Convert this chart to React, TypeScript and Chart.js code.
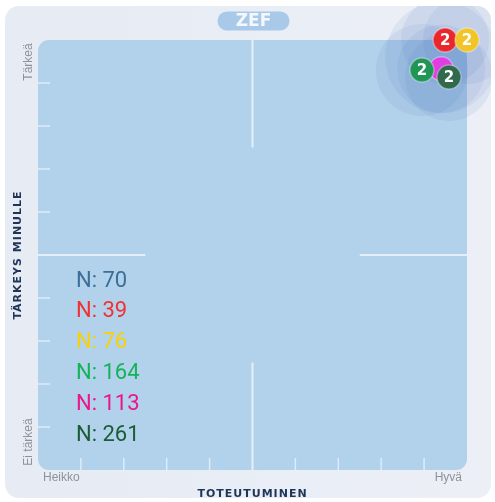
import { useEffect, useRef } from "react";
import { Chart, registerables, BubbleController } from "chart.js";
Chart.register(...registerables);

// Bubble controller that does not reserve extra layout padding for big radii
class FlatBubbleController extends (BubbleController as any) {
  static id = "flatBubble";
  static defaults = (BubbleController as any).defaults;
  static overrides = (BubbleController as any).overrides;
  getMaxOverflow() {
    return 0;
  }
}
Chart.register(FlatBubbleController as any);

// ---- data ----
const nCounts = [70, 39, 76, 164, 113, 261];
const nColors = ["#3d6e99", "#f03232", "#f5d20c", "#16b25a", "#ea168e", "#1b5c37"];

// visible bubbles, listed in paint order (first = bottom)
const bubbleX = [9.49, 10.0, 9.4, 8.95, 9.58];
const bubbleY = [10.0, 10.0, 9.33, 9.3, 9.14];
const bubbleLabels = ["2", "2", "", "2", "2"];
const bubbleColors = ["#e8282c", "#f2c428", "#e03ee0", "#1f9656", "#2f6a4c"];

// spread halos
const haloX = [9.4, 9.49, 10.0, 9.4, 8.95, 9.58];
const haloY = [9.6, 10.0, 10.0, 9.33, 9.3, 9.14];
const haloR = [56, 44, 44, 44, 46, 44];

const tickValues = [1, 2, 3, 4, 6, 7, 8, 9];
const axisMin = 0;
const axisMax = 10;
const centerValue = 5;
const centerGapLow = 2.5;
const centerGapHigh = 7.5;

const yTitle = "TÄRKEYS MINULLE";
const yHigh = "Tärkeä";
const yLow = "Ei tärkeä";
const xTitle = "TOTEUTUMINEN";
const xLow = "Heikko";
const xHigh = "Hyvä";
const brand = "ZEF";

function roundRect(ctx: CanvasRenderingContext2D, x: number, y: number, w: number, h: number, r: number) {
  ctx.beginPath();
  ctx.moveTo(x + r, y);
  ctx.lineTo(x + w - r, y);
  ctx.arcTo(x + w, y, x + w, y + r, r);
  ctx.lineTo(x + w, y + h - r);
  ctx.arcTo(x + w, y + h, x + w - r, y + h, r);
  ctx.lineTo(x + r, y + h);
  ctx.arcTo(x, y + h, x, y + h - r, r);
  ctx.lineTo(x, y + r);
  ctx.arcTo(x, y, x + r, y, r);
  ctx.closePath();
}

const backgroundPlugin = {
  id: "zefBackground",
  beforeDatasetsDraw(chart: any) {
    const ctx: CanvasRenderingContext2D = chart.ctx;
    const { left, right, top, bottom } = chart.chartArea;
    const xs = chart.scales.x;
    const ys = chart.scales.y;
    ctx.save();
    // plot area
    ctx.fillStyle = "#b2d1ea";
    roundRect(ctx, left, top, right - left, bottom - top, 11);
    ctx.fill();

    // center cross lines
    ctx.strokeStyle = "rgba(236,244,252,0.85)";
    ctx.lineWidth = 2;
    const cx = xs.getPixelForValue(centerValue);
    const cy = ys.getPixelForValue(centerValue);
    ctx.beginPath();
    ctx.moveTo(cx, ys.getPixelForValue(axisMax));
    ctx.lineTo(cx, ys.getPixelForValue(centerGapHigh));
    ctx.moveTo(cx, ys.getPixelForValue(centerGapLow));
    ctx.lineTo(cx, ys.getPixelForValue(axisMin));
    ctx.moveTo(xs.getPixelForValue(axisMin), cy);
    ctx.lineTo(xs.getPixelForValue(centerGapLow), cy);
    ctx.moveTo(xs.getPixelForValue(centerGapHigh), cy);
    ctx.lineTo(xs.getPixelForValue(axisMax), cy);
    ctx.stroke();

    // ticks
    ctx.strokeStyle = "rgba(236,244,252,0.75)";
    ctx.lineWidth = 1.5;
    ctx.beginPath();
    for (const v of tickValues) {
      const py = ys.getPixelForValue(v);
      ctx.moveTo(left, py);
      ctx.lineTo(left + 12, py);
      const px = xs.getPixelForValue(v);
      ctx.moveTo(px, bottom);
      ctx.lineTo(px, bottom - 12);
    }
    ctx.stroke();

    // gray end labels
    ctx.fillStyle = "#8d929b";
    ctx.font = "12px 'Liberation Sans', Arial, sans-serif";
    ctx.textBaseline = "middle";
    ctx.textAlign = "left";
    ctx.fillText(xLow, left + 5, bottom + 8);
    ctx.textAlign = "right";
    ctx.fillText(xHigh, right - 5, bottom + 8);

    ctx.save();
    ctx.translate(left - 9, top + 22);
    ctx.rotate(-Math.PI / 2);
    ctx.textAlign = "center";
    ctx.fillText(yHigh, 0, 0);
    ctx.restore();
    ctx.save();
    ctx.translate(left - 9, bottom - 28);
    ctx.rotate(-Math.PI / 2);
    ctx.textAlign = "center";
    ctx.fillText(yLow, 0, 0);
    ctx.restore();

    // axis titles
    ctx.fillStyle = "#1f3558";
    ctx.font = "bold 11px 'DejaVu Sans', sans-serif";
    (ctx as any).letterSpacing = "1px";
    ctx.textAlign = "center";
    ctx.fillText(xTitle, (left + right) / 2, bottom + 24);
    ctx.save();
    ctx.translate(left - 20, (top + bottom) / 2);
    ctx.rotate(-Math.PI / 2);
    ctx.fillText(yTitle, 0, 0);
    ctx.restore();
    (ctx as any).letterSpacing = "0px";

    // brand pill
    const pw = 72, ph = 19;
    const pcx = (left + right) / 2 + 1;
    const pcy = top - 19;
    ctx.fillStyle = "#a9c9e8";
    roundRect(ctx, pcx - pw / 2, pcy - ph / 2, pw, ph, ph / 2);
    ctx.fill();
    ctx.fillStyle = "#f4f8fd";
    ctx.font = "bold 17px 'DejaVu Sans', sans-serif";
    ctx.textAlign = "center";
    ctx.fillText(brand, pcx, pcy + 1);

    // N labels
    ctx.font = "22px Roboto, sans-serif";
    ctx.textAlign = "left";
    nCounts.forEach((n, i) => {
      ctx.fillStyle = nColors[i];
      ctx.fillText("N: " + n, left + 38, top + 241 + i * 30.8);
    });
    ctx.restore();
  },
  afterDatasetDraw(chart: any, args: any) {
    const ds = chart.data.datasets[args.index];
    if (!ds.bubbleText) return;
    const el = args.meta.data[0];
    const ctx: CanvasRenderingContext2D = chart.ctx;
    ctx.save();
    ctx.fillStyle = "#ffffff";
    ctx.font = "bold 15px 'DejaVu Sans', sans-serif";
    ctx.textAlign = "center";
    ctx.textBaseline = "middle";
    ctx.fillText(ds.bubbleText, el.x, el.y + 1);
    ctx.restore();
  },
};

export default function App() {
  const ref = useRef<HTMLCanvasElement>(null);
  useEffect(() => {
    if (!ref.current) return;
    const layers: any[] = [];
    haloX.forEach((x, i) => {
      layers.push({
        type: "flatBubble",
        data: [{ x, y: haloY[i], r: haloR[i] }],
        backgroundColor: "rgba(72,122,190,0.095)",
        borderWidth: 0,
        clip: false,
      });
    });
    bubbleX.forEach((x, i) => {
      layers.push({
        type: "flatBubble",
        data: [{ x, y: bubbleY[i], r: 12 }],
        backgroundColor: bubbleColors[i],
        borderColor: "rgba(255,255,255,0.35)",
        borderWidth: 1.5,
        clip: false,
        bubbleText: bubbleLabels[i],
      });
    });
    const n = layers.length;
    layers.forEach((l, i) => (l.order = n - i));

    const chart = new Chart(ref.current, {
      type: "flatBubble",
      data: { datasets: layers },
      options: {
        animation: false,
        responsive: false,
        devicePixelRatio: 1,
        layout: { padding: { left: 38, top: 40, right: 28, bottom: 32 } },
        plugins: { legend: { display: false }, tooltip: { enabled: false } },
        scales: {
          x: { type: "linear", min: axisMin, max: axisMax, display: false },
          y: { type: "linear", min: axisMin, max: axisMax, display: false },
        },
      } as any,
      plugins: [backgroundPlugin],
    } as any);
    return () => chart.destroy();
  }, []);

  return (
    <div style={{ position: "absolute", left: 0, top: 0, width: 495, height: 502, background: "#ffffff" }}>
      <div
        style={{
          position: "absolute",
          left: 5,
          top: 6,
          width: 486,
          height: 492,
          borderRadius: 14,
          overflow: "hidden",
          background: "linear-gradient(90deg, #e6ebf4 0%, #eceff6 100%)",
        }}
      >
        <canvas
          ref={ref}
          width={495}
          height={502}
          style={{ position: "absolute", left: -5, top: -6, width: 495, height: 502 }}
        />
      </div>
    </div>
  );
}
